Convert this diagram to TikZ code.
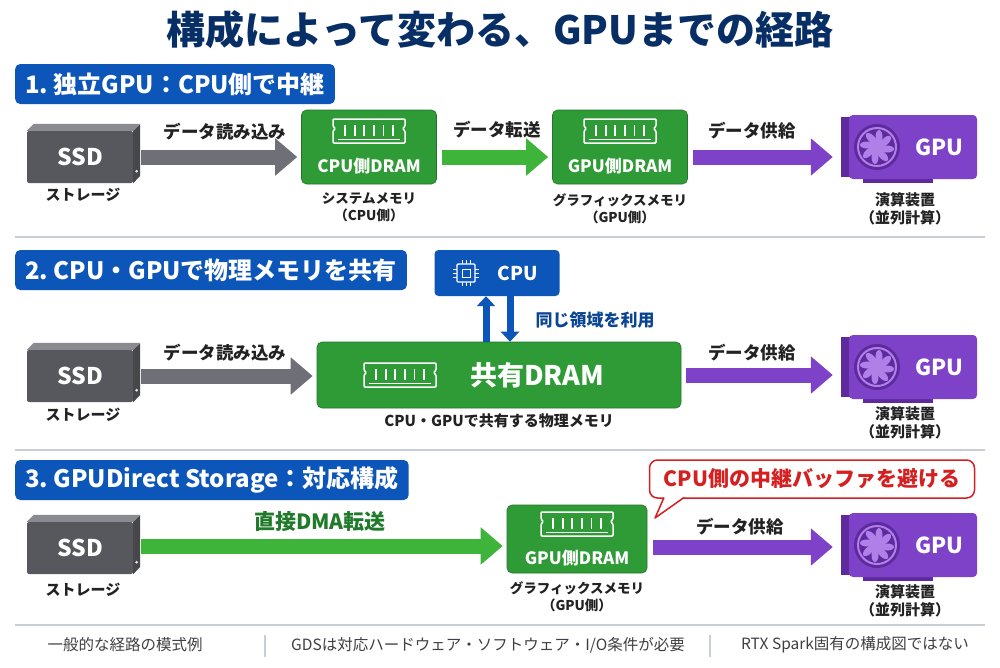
\documentclass[tikz,border=0pt]{standalone}
\usepackage{fontspec}
\setmainfont{Noto Sans CJK JP}
\usetikzlibrary{arrows.meta,calc}
\definecolor{hblue}{HTML}{0D56B9}
\definecolor{ggreen}{HTML}{2F9B36}
\definecolor{arrgreen}{HTML}{3FB43A}
\definecolor{purp}{HTML}{7E42C8}
\definecolor{purpd}{HTML}{5E2A9E}
\definecolor{purpl}{HTML}{B07FE8}
\definecolor{ssdg}{HTML}{57585E}
\definecolor{ssdl}{HTML}{8A8B91}
\definecolor{arrg}{HTML}{6F7077}
\definecolor{txt}{HTML}{222222}
\definecolor{sep}{HTML}{C9CDD4}
\definecolor{callred}{HTML}{D42020}
\definecolor{dmagreen}{HTML}{1F7A2A}
\tikzset{
 x=1pt,y=-1pt,
 hdr/.style={fill=hblue, rounded corners=5pt, text=white, font=\bfseries\fontsize{24}{26}\selectfont, anchor=west, inner xsep=10pt, minimum height=40pt},
 ram/.style={fill=ggreen, rounded corners=5pt, draw=ggreen!75!black, line width=0.6pt},
 ramtxt/.style={text=white, font=\bfseries\fontsize{17}{19}\selectfont},
 lbl/.style={font=\bfseries\fontsize{17.5}{20}\selectfont, text=txt},
 sub/.style={font=\bfseries\fontsize{13.5}{17}\selectfont, text=txt, align=center},
 fat/.style={line width=15pt, -{Triangle[length=22pt,width=36pt]}, shorten >=4pt},
 ssd/.style={fill=ssdg, rounded corners=2pt, minimum width=106pt, minimum height=52pt, text=white, font=\bfseries\fontsize{23}{25}\selectfont},
 gpub/.style={fill=purp, rounded corners=4pt, minimum width=128pt, minimum height=64pt},
 sepline/.style={sep, line width=1.5pt},
 foot/.style={font=\fontsize{15.5}{18}\selectfont, text=black!75},
 bigsub/.style={sub, font=\bfseries\fontsize{15}{18}\selectfont},
}
\newcommand{\ramicon}[2]{% x y centre
 \begin{scope}[shift={(#1,#2)}, scale=1.2]
  \draw[white, line width=1.5pt, rounded corners=1pt] (-30,-10) -- (30,-10) -- (30,-4) -- (28,-2) -- (30,0) -- (30,10) -- (-30,10) -- (-30,0) -- (-28,-2) -- (-30,-4) -- cycle;
  \foreach \i in {-20,-12,-4,4,12,20} \draw[white, line width=1.8pt] (\i,-5) -- (\i,4);
  \draw[white, line width=1pt] (-26,7) -- (26,7);
 \end{scope}}
\newcommand{\ssdbox}[3]{% name x y
 \node[ssd] (#1) at (#2,#3) {SSD};
 \fill[ssdl] (#1.north west) -- ++(7,-7) -- ++(106,0) -- (#1.north east) -- cycle;
 \fill[ssdg!80!black] (#1.north east) -- ++(7,-7) -- ++(0,52) -- (#1.south east) -- cycle;
 \fill[white!80!gray] ($(#1.south east)+(3.5,-12)$) circle (1.5);}
\newcommand{\gpucard}[3]{% name x y
 \fill[purpd] (#2-72,#3-30) rectangle (#2-60,#3+30);
 \fill[purpd] (#2-50,#3+28) rectangle (#2+20,#3+36);
 \node[gpub] (#1) at (#2,#3) {};
 \node[text=white, font=\bfseries\fontsize{22}{24}\selectfont] (#1t) at (#2+26,#3) {GPU};
 \begin{scope}[shift={(#2-36,#3)}]
  \fill[purpd] (0,0) circle (23);
  \draw[purpl, line width=2pt] (0,0) circle (19);
  \foreach \a in {0,45,...,315} \fill[purpl, rotate=\a] (10,2) ellipse [x radius=7, y radius=3.5];
  \fill[purpl] (0,0) circle (5);
 \end{scope}}
\begin{document}
\begin{tikzpicture}
\useasboundingbox[fill=white] (0,0) rectangle (1000,667);
\node[font=\bfseries\fontsize{39}{44}\selectfont, text=hblue!55!black] (title) at (500,30) {構成によって変わる、GPUまでの経路};

% ---------- section 1
\node[hdr] (h1) at (15,84) {1.\ 独立GPU：CPU側で中継};
\ssdbox{ssd1}{80}{157}
\node[bigsub] (s1l) at (83,195) {ストレージ};
\node[ram, minimum width=135pt, minimum height=74pt] (d1) at (369,147) {};
\ramicon{369}{131}
\node[ramtxt] (d1t) at (369,166) {CPU側DRAM};
\node[sub] (d1l) at (369,207) {システムメモリ\\（CPU側）};
\node[ram, minimum width=135pt, minimum height=74pt] (g1) at (620,147) {};
\ramicon{620}{131}
\node[ramtxt] (g1t) at (620,166) {GPU側DRAM};
\node[sub] (g1l) at (620,209) {グラフィックスメモリ\\（GPU側）};
\gpucard{gp1}{913}{147}
\node[bigsub] (gp1l) at (905,209) {演算装置\\（並列計算）};
\draw[fat, arrg] ($(ssd1.east)+(8,0)$) -- (d1.west |- ssd1.east);
\node[lbl] (a1) at (225,132) {データ読み込み};
\draw[fat, arrgreen] ($(d1.east)+(5,10)$) -- ($(g1.west)+(0,10)$);
\node[lbl] (a2) at (497,130) {データ転送};
\draw[fat, purp] ($(g1.east)+(5,10)$) -- ($(gp1.west)+(-12,10)$);
\node[lbl] (a3) at (752,131) {データ供給};
\draw[sepline] (15,237) -- (985,237);

% ---------- section 2
\node[hdr] (h2) at (15,270) {2.\ CPU・GPUで物理メモリを共有};
\node[fill=hblue, rounded corners=4pt, minimum width=125pt, minimum height=46pt] (cpu) at (497,273) {};
\begin{scope}[shift={(466,273)}]
 \draw[white, line width=1.4pt, rounded corners=1pt] (-9,-9) rectangle (9,9);
 \draw[white, line width=1pt] (-4,-4) rectangle (4,4);
 \foreach \i in {-4,0,4} {\draw[white,line width=1pt] (\i,-9) -- (\i,-13) (\i,9) -- (\i,13) (-9,\i) -- (-13,\i) (9,\i) -- (13,\i);}
\end{scope}
\node[text=white, font=\bfseries\fontsize{19}{21}\selectfont] (cput) at (518,273) {CPU};
\ssdbox{ssd2}{80}{376}
\node[bigsub] (s2l) at (83,415) {ストレージ};
\node[ram, minimum width=364pt, minimum height=66pt] (sh) at (499,375) {};
\ramicon{400}{375}
\node[text=white, font=\bfseries\fontsize{27}{29}\selectfont] (sht) at (537,375) {共有DRAM};
\node[bigsub] (shl) at (499,421) {CPU・GPUで共有する物理メモリ};
\draw[hblue, line width=7pt, -{Triangle[length=10pt,width=18pt]}] (sh.north -| 486,0) -- (cpu.south -| 486,0);
\draw[hblue, line width=7pt, -{Triangle[length=10pt,width=18pt]}] (cpu.south -| 510,0) -- (sh.north -| 510,0);
\node[font=\bfseries\fontsize{17}{20}\selectfont, text=hblue!80!black] (same) at (595,320) {同じ領域を利用};
\gpucard{gp2}{913}{367}
\node[bigsub] (gp2l) at (905,423) {演算装置\\（並列計算）};
\draw[fat, arrg] ($(ssd2.east)+(8,0)$) -- (sh.west |- ssd2.east);
\node[lbl] (b1) at (225,353) {データ読み込み};
\draw[fat, purp] ($(sh.east)+(5,0)$) -- ($(gp2.west)+(-12,8)$);
\node[lbl] (b3) at (752,353) {データ供給};
\draw[sepline] (15,450) -- (985,450);

% ---------- section 3
\node[hdr] (h3) at (15,480) {3.\ GPUDirect Storage：対応構成};
\node[draw=callred, fill=white, line width=1.5pt, rounded corners=8pt, minimum width=325pt, minimum height=38pt, text=callred, font=\bfseries\fontsize{21}{23}\selectfont] (call) at (812,479) {CPU側の中継バッファを避ける};
\fill[white] (664,496.5) -- (655,518) -- (684,496.5) -- cycle;
\draw[callred, line width=1.5pt, line join=round] (664,497.5) -- (655,518) -- (684,497.5);
\ssdbox{ssd3}{80}{548}
\node[bigsub] (s3l) at (83,590) {ストレージ};
\node[ram, minimum width=140pt, minimum height=68pt] (g3) at (577,539) {};
\ramicon{577}{524}
\node[ramtxt] (g3t) at (577,558) {GPU側DRAM};
\node[sub] (g3l) at (577,597) {グラフィックスメモリ\\（GPU側）};
\gpucard{gp3}{913}{545}
\node[bigsub] (gp3l) at (905,601) {演算装置\\（並列計算）};
\draw[fat, arrgreen] ($(ssd3.east)+(8,-2)$) -- ($(g3.west)+(0,7)$);
\node[font=\bfseries\fontsize{21}{24}\selectfont, text=dmagreen] (c1) at (320,522) {直接DMA転送};
\draw[fat, purp] ($(g3.east)+(6,8)$) -- ($(gp3.west)+(-12,2)$);
\node[lbl] (c3) at (740,527) {データ供給};
\draw[sepline] (15,625) -- (985,625);

% ---------- footer
\node[foot] (f1) at (125,645) {一般的な経路の模式例};
\node[foot] (f2) at (488,645) {GDSは対応ハードウェア・ソフトウェア・I/O条件が必要};
\node[foot] (f3) at (855,645) {RTX Spark固有の構成図ではない};
\draw[sep, line width=1.2pt] (265,635) -- (265,657);
\draw[sep, line width=1.2pt] (710,635) -- (710,657);
\end{tikzpicture}
\end{document}
